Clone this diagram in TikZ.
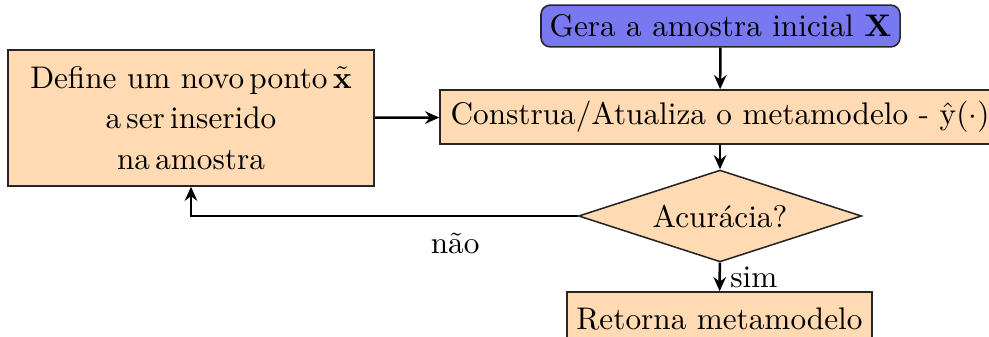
\documentclass[tikz,border=0pt]{standalone}
\usepackage{amsmath}
\usetikzlibrary{shapes.geometric,arrows.meta}
\definecolor{startblue}{RGB}{120,120,240}
\definecolor{stepfill}{RGB}{255,218,178}
\begin{document}
\begin{tikzpicture}[x=0.32pt,y=-0.32pt,
  stepbox/.style={draw=black!85, fill=stepfill, line width=0.5pt, inner sep=0pt, align=center},
  startbox/.style={stepbox, fill=startblue, rounded corners=3pt},
  decision/.style={stepbox, diamond, aspect=3},
  flow/.style={line width=0.8pt, -{Stealth[length=4.5pt,width=4pt]}}]
\useasboundingbox (0,0) rectangle (989,336);

% process blocks
\node[startbox, minimum width=114.9pt, minimum height=13.4pt] (start) at (720.5,26)
  {Gera a amostra inicial $\mathbf{X}$};
\node[stepbox, minimum width=179.2pt, minimum height=17.3pt] (model) at (720,117)
  {Construa/Atualiza o metamodelo - $\hat{\mathrm{y}}(\cdot)$};
\node[decision, minimum width=90.6pt, minimum height=29.4pt] (acc) at (720,216)
  {Acur\'acia?};
\node[stepbox, minimum width=97.6pt, minimum height=17.3pt] (ret) at (719.5,319)
  {Retorna metamodelo};
\node[stepbox, minimum width=117.1pt, minimum height=43.5pt] (newpt) at (191,118)
  {Define um novo\,ponto\,$\tilde{\mathbf{x}}$\\[1pt] a\,ser\,inserido\\[1pt] na\,amostra};

% connectors
\draw[flow] (start) -- (model);
\draw[flow] (model) -- (acc);
\draw[flow] (acc) -- node[right, inner sep=3pt] {sim} (ret);
\draw[flow] (newpt) -- (model);
\draw[flow] (acc.west) -- node[below, pos=0.317, inner sep=5pt] {n\~ao} (acc.west -| newpt.south) -- (newpt.south);
\end{tikzpicture}
\end{document}
